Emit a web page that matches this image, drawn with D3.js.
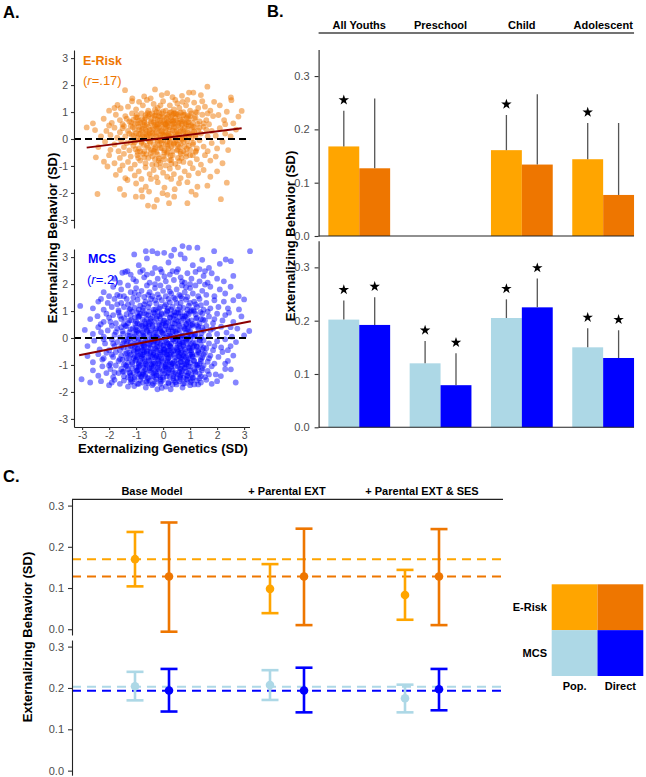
<!DOCTYPE html>
<html><head><meta charset="utf-8">
<script src="https://cdn.jsdelivr.net/npm/d3@7"></script>
<style>body{margin:0;background:#fff}svg{display:block}</style>
</head><body><svg id="c" width="646" height="777"></svg>
<script>
// ---------------- DATA ----------------
// Panel A: E-Risk scatter (genetics SD, behaviour SD)
const eriskPoints = [
[-1.41,1.81],[-0.30,1.84],[-0.05,1.63],[0.96,1.72],[1.12,1.72],[1.40,1.63],[1.64,1.94],[2.51,1.54],[-1.14,1.51],[-0.46,1.51],[0.35,1.55],[0.7,1.6],[-0.7,1.58],[0.15,1.7],
[-1.69,1.26],[-1.57,1.14],[-0.89,1.38],[0.53,1.32],[0.72,1.38],[1.89,1.38],[2.53,1.44],[2.91,1.04],[2.36,1.01],[-2.0,1.05],[-1.3,1.2],[-1.0,1.1],[-0.75,1.25],[-0.55,1.05],[-0.35,1.3],[-0.2,1.15],[0.0,1.4],[0.1,1.05],[0.25,1.25],[0.4,1.1],[0.6,1.15],[0.85,1.25],[1.0,1.05],[1.15,1.35],[1.3,1.15],[1.55,1.2],[1.75,1.05],[2.1,1.25],[-1.15,1.4],[-0.1,1.25],[0.9,1.45],[-0.6,1.45],[0.45,1.45],[1.2,1.0],[-1.8,1.15],[-0.25,1.0],[0.3,1.0],[0.75,1.0],[1.45,1.4],
[-2.6,0.58],[-2.2,0.75],[-1.9,0.6],[-1.75,0.9],[-1.6,0.7],[-1.5,0.55],[-1.4,0.85],[-1.25,0.65],[-1.15,0.95],[-1.05,0.55],[-0.95,0.8],[-0.85,0.6],[-0.8,0.95],[-0.7,0.7],[-0.6,0.55],[-0.55,0.85],[-0.45,0.65],[-0.4,0.95],[-0.3,0.75],[-0.25,0.55],[-0.15,0.85],[-0.1,0.6],[-0.05,0.95],[0.05,0.7],[0.1,0.55],[0.15,0.9],[0.2,0.65],[0.3,0.8],[0.35,0.55],[0.4,0.95],[0.5,0.7],[0.55,0.6],[0.6,0.85],[0.7,0.65],[0.8,0.9],[0.85,0.55],[0.95,0.75],[1.05,0.95],[1.1,0.6],[1.2,0.8],[1.35,0.65],[1.45,0.9],[1.6,0.7],[1.7,0.55],[1.85,0.85],[2.05,0.89],[2.26,0.70],[2.6,0.58],[2.79,0.83],[-2.0,0.5],[-1.35,0.75],[-0.9,0.68],[-0.65,0.78],[-0.2,0.72],[0.0,0.82],[0.25,0.98],[0.45,0.78],[0.65,0.98],[0.9,0.62],[1.25,0.98],[1.5,0.58],[-0.35,0.62],[0.12,0.78],[0.75,0.72],[-1.1,0.72],[-0.5,0.92],[0.55,0.92],[1.0,0.85],[-0.05,0.52],[0.38,0.68],[-0.75,0.52],[0.18,0.58],[-0.28,0.88],[0.88,0.8],[1.65,0.95],[2.3,0.55],
[-2.83,0.43],[-2.52,0.33],[-2.3,0.1],[-2.1,0.3],[-1.95,0.15],[-1.8,0.42],[-1.7,0.05],[-1.6,0.25],[-1.5,0.4],[-1.4,0.1],[-1.3,0.3],[-1.2,0.48],[-1.15,0.15],[-1.05,0.35],[-0.95,0.05],[-0.9,0.45],[-0.85,0.2],[-0.75,0.38],[-0.7,0.08],[-0.6,0.28],[-0.55,0.45],[-0.45,0.12],[-0.4,0.35],[-0.3,0.2],[-0.25,0.45],[-0.15,0.05],[-0.1,0.3],[0.0,0.15],[0.05,0.42],[0.1,0.25],[0.2,0.05],[0.25,0.35],[0.3,0.18],[0.4,0.45],[0.45,0.08],[0.5,0.3],[0.6,0.15],[0.65,0.42],[0.75,0.25],[0.8,0.05],[0.9,0.38],[1.0,0.18],[1.1,0.45],[1.2,0.1],[1.3,0.32],[1.4,0.2],[1.5,0.45],[1.65,0.1],[1.8,0.3],[1.95,0.12],[2.1,0.4],[2.3,0.2],[2.5,0.1],[2.7,0.35],[-1.25,0.2],[-0.65,0.18],[-0.2,0.38],[0.15,0.48],[0.55,0.22],[0.85,0.12],[1.15,0.28],[-0.35,0.02],[0.35,0.32],[-0.8,0.32],[-1.45,0.48],[0.7,0.02],[1.6,0.35],[-0.05,0.22],[0.22,0.12],[-0.5,0.22],[0.95,0.48],[-1.0,0.22],[1.35,0.42],[-0.15,0.42],
[-2.4,-0.3],[-2.15,-0.1],[-1.95,-0.4],[-1.8,-0.2],[-1.65,-0.45],[-1.55,-0.05],[-1.45,-0.3],[-1.35,-0.15],[-1.25,-0.42],[-1.1,-0.25],[-1.0,-0.05],[-0.9,-0.35],[-0.8,-0.15],[-0.7,-0.45],[-0.6,-0.25],[-0.5,-0.08],[-0.45,-0.4],[-0.35,-0.2],[-0.25,-0.48],[-0.2,-0.1],[-0.1,-0.32],[0.0,-0.05],[0.05,-0.42],[0.1,-0.2],[0.2,-0.35],[0.25,-0.08],[0.35,-0.45],[0.4,-0.22],[0.5,-0.05],[0.55,-0.38],[0.65,-0.18],[0.75,-0.45],[0.8,-0.28],[0.9,-0.08],[1.0,-0.4],[1.1,-0.2],[1.25,-0.35],[1.35,-0.05],[1.5,-0.28],[1.65,-0.45],[1.8,-0.15],[2.0,-0.35],[2.2,-0.1],[2.41,-0.41],[-0.15,-0.22],[0.3,-0.28],[-0.55,-0.32],[0.7,-0.02],[-0.95,-0.48],[1.2,-0.48],[0.15,-0.48],[-0.3,-0.38],[0.45,-0.12],[-1.2,-0.12],[0.95,-0.25],[-0.05,-0.15],[0.6,-0.3],
[-2.49,-0.68],[-2.19,-0.84],[-2.0,-0.6],[-1.8,-0.9],[-1.6,-0.7],[-1.45,-0.55],[-1.3,-0.85],[-1.2,-0.65],[-1.05,-0.95],[-0.95,-0.6],[-0.85,-0.8],[-0.75,-0.55],[-0.65,-0.9],[-0.55,-0.7],[-0.45,-0.52],[-0.4,-0.95],[-0.3,-0.75],[-0.2,-0.58],[-0.1,-0.88],[0.0,-0.65],[0.1,-0.98],[0.15,-0.55],[0.25,-0.78],[0.35,-0.6],[0.45,-0.92],[0.55,-0.7],[0.65,-0.55],[0.75,-0.85],[0.85,-0.65],[1.0,-0.9],[1.1,-0.6],[1.25,-0.75],[1.4,-0.95],[1.55,-0.6],[1.75,-0.8],[1.95,-0.65],[2.2,-0.9],[-0.25,-0.95],[0.3,-0.92],[-0.7,-0.68],[0.6,-0.82],[-1.5,-0.98],[0.05,-0.75],[-0.15,-0.72],
[-2.06,-1.02],[-1.75,-1.33],[-1.6,-1.15],[-1.4,-1.45],[-1.2,-1.1],[-1.05,-1.35],[-0.9,-1.2],[-0.8,-1.48],[-0.65,-1.05],[-0.5,-1.3],[-0.35,-1.15],[-0.25,-1.42],[-0.1,-1.05],[0.0,-1.25],[0.15,-1.4],[0.25,-1.1],[0.4,-1.3],[0.55,-1.05],[0.65,-1.45],[0.8,-1.2],[0.95,-1.35],[1.1,-1.08],[1.30,-1.27],[1.5,-1.15],[1.75,-1.4],[2.0,-1.2],[-0.45,-1.48],[0.3,-1.48],
[-1.32,-1.52],[-0.64,-1.77],[-0.52,-1.95],[0.43,-1.86],[0.59,-1.64],[1.27,-1.77],[1.64,-1.73],[2.36,-1.62],[-1.0,-1.65],[-0.2,-1.6],[0.05,-1.8],[0.9,-1.6],[-0.8,-1.9],[1.05,-1.95],[-1.6,-1.85],
[-2.43,-2.04],[-1.44,-2.07],[-1.01,-2.14],[-0.77,-2.14],[-0.56,-2.47],[-0.33,-2.51],[-0.23,-2.26],[-0.02,-2.01],[0.16,-2.07],[0.22,-2.38],[0.41,-2.14],[0.90,-2.38],[1.21,-2.07],[2.14,-2.23]
];
// E-Risk: denser centre of the cloud
const eriskCorePoints = [
[-1.18,0.62],[-1.08,0.12],[-1.02,-0.38],[-0.98,0.9],[-0.92,-0.7],[-0.88,0.36],[-0.82,0.02],[-0.78,0.74],[-0.72,-0.22],[-0.68,0.5],[-0.62,-0.56],[-0.58,0.96],[-0.52,0.16],[-0.48,-0.12],[-0.44,0.58],[-0.4,-0.64],[-0.36,0.4],[-0.32,0.86],[-0.28,-0.3],[-0.24,0.1],[-0.2,0.54],[-0.16,-0.8],[-0.12,0.68],[-0.08,-0.06],[-0.04,0.3],[0.0,1.02],[0.04,-0.5],[0.08,0.56],[0.12,0.16],[0.16,-0.26],[0.2,0.84],[0.24,0.44],[0.28,-0.62],[0.32,0.06],[0.36,0.64],[0.4,-0.16],[0.44,0.26],[0.48,0.92],[0.52,-0.42],[0.56,0.5],[0.6,0.04],[0.64,0.72],[0.68,-0.7],[0.72,0.34],[0.76,-0.1],[0.8,0.6],[0.84,0.2],[0.88,-0.36],[0.92,0.86],[0.96,0.1],[1.0,-0.6],[1.04,0.5],[1.08,0.28],[1.12,-0.14],[1.16,0.76],[1.22,-0.44],[1.28,0.56],
[-1.12,0.44],[-1.05,-0.12],[-0.95,0.58],[-0.85,-0.46],[-0.75,0.14],[-0.65,0.88],[-0.55,-0.02],[-0.45,0.76],[-0.35,-0.44],[-0.25,0.24],[-0.15,0.98],[-0.05,-0.34],[0.05,0.12],[0.15,0.62],[0.25,-0.14],[0.35,0.9],[0.45,0.44],[0.55,-0.2],[0.65,0.28],[0.75,0.88],[0.85,-0.54],[0.95,0.62],[1.05,0.02],[1.15,0.44],[-0.9,0.18],[-0.7,0.62],[-0.5,0.34],[-0.3,0.52],[-0.1,0.14],[0.1,0.38],[0.3,0.7],[0.5,0.14],[0.7,0.54],[0.9,0.24],[-0.6,0.1],[-0.2,-0.04],[0.2,0.2],[0.6,0.6],[-0.4,0.22],[0.0,0.62],[0.4,0.58],[0.8,0.42],[-0.8,-0.1],[0.15,-0.1],[-0.1,0.82],[0.45,0.96],[-0.65,0.34],[0.65,-0.48],[-0.3,1.1],[0.3,-0.78],[1.2,0.16],[-1.0,0.8]
];
// Panel A: MCS scatter
const mcsPoints = [
[-1.07,3.10],[-0.64,3.22],[-0.40,3.22],[-0.21,3.14],[0.04,3.16],[0.41,3.28],[0.72,3.41],[0.96,3.35],[1.27,3.35],[1.89,3.22],[2.51,2.85],[2.32,2.91],[3.22,3.22],[-1.32,2.48],[-1.51,2.42],[-0.9,2.7],[-0.6,2.95],[-0.3,2.6],[0.2,2.8],[0.55,2.55],[0.8,2.95],[1.1,2.7],[1.45,2.9],[1.7,2.6],[2.1,2.75],[0.3,3.05],[-0.1,2.55],[1.35,2.55],[0.65,3.1],[-0.75,2.52],
[-1.8,2.2],[-1.6,2.05],[-1.2,2.35],[-1.0,2.1],[-0.85,2.45],[-0.7,2.25],[-0.5,2.05],[-0.4,2.4],[-0.2,2.2],[-0.05,2.45],[0.1,2.1],[0.25,2.35],[0.4,2.15],[0.5,2.45],[0.65,2.25],[0.8,2.05],[0.9,2.4],[1.05,2.2],[1.2,2.45],[1.35,2.1],[1.5,2.3],[1.65,2.05],[1.8,2.4],[2.0,2.2],[2.25,2.1],[2.6,2.3],[-1.4,2.45],[-0.3,2.0],[0.35,2.48],[1.0,2.0],[-0.6,2.35],[0.7,2.1],[1.55,2.48],[-1.1,2.18],[0.05,2.28],
[-2.2,1.7],[-2.0,1.55],[-1.85,1.9],[-1.7,1.6],[-1.55,1.8],[-1.45,1.55],[-1.3,1.95],[-1.2,1.7],[-1.1,1.5],[-1.0,1.85],[-0.9,1.6],[-0.8,1.75],[-0.7,1.52],[-0.6,1.95],[-0.5,1.7],[-0.4,1.55],[-0.3,1.85],[-0.2,1.62],[-0.1,1.95],[0.0,1.75],[0.1,1.55],[0.2,1.88],[0.3,1.65],[0.4,1.5],[0.5,1.8],[0.6,1.6],[0.7,1.95],[0.8,1.7],[0.9,1.52],[1.0,1.85],[1.1,1.65],[1.2,1.95],[1.3,1.55],[1.45,1.75],[1.6,1.6],[1.75,1.9],[1.9,1.55],[2.1,1.8],[2.3,1.65],[2.5,1.9],[2.8,1.55],[3.0,1.43],[-0.55,1.6],[0.25,1.72],[0.85,1.88],[-1.05,1.68],[1.55,1.98],[-0.15,1.5],[0.65,1.55],[-1.6,1.55],
[-3.07,1.19],[-2.6,1.1],[-2.4,1.35],[-2.2,1.05],[-2.05,1.3],[-1.9,1.15],[-1.8,1.45],[-1.65,1.02],[-1.55,1.3],[-1.45,1.15],[-1.35,1.45],[-1.25,1.05],[-1.15,1.3],[-1.05,1.12],[-0.95,1.42],[-0.85,1.2],[-0.75,1.02],[-0.65,1.35],[-0.55,1.15],[-0.45,1.45],[-0.35,1.05],[-0.25,1.28],[-0.15,1.1],[-0.05,1.4],[0.05,1.18],[0.15,1.02],[0.25,1.32],[0.35,1.15],[0.45,1.45],[0.55,1.05],[0.65,1.3],[0.75,1.12],[0.85,1.42],[0.95,1.2],[1.05,1.02],[1.15,1.35],[1.25,1.15],[1.35,1.45],[1.5,1.05],[1.6,1.3],[1.75,1.1],[1.9,1.4],[2.05,1.15],[2.25,1.35],[2.4,1.1],[2.81,1.06],[2.6,1.4],[-0.7,1.25],[0.1,1.25],[0.9,1.05],[-1.3,1.25],[0.5,1.3],[1.2,1.25],[-0.3,1.4],[0.3,1.05],[-0.9,1.05],[1.4,1.22],[-1.7,1.25],[0.7,1.48],[-0.1,1.15],[0.2,1.45],[-0.5,1.28],[1.0,1.3],[-2.3,1.45],
[-2.43,0.81],[-2.31,0.51],[-2.7,0.7],[-2.1,0.9],[-1.95,0.6],[-1.85,0.85],[-1.75,0.55],[-1.65,0.95],[-1.55,0.7],[-1.45,0.52],[-1.35,0.88],[-1.25,0.65],[-1.15,0.98],[-1.05,0.75],[-0.95,0.55],[-0.85,0.9],[-0.75,0.68],[-0.65,0.52],[-0.55,0.85],[-0.45,0.62],[-0.35,0.95],[-0.25,0.72],[-0.15,0.55],[-0.05,0.88],[0.05,0.65],[0.15,0.98],[0.25,0.75],[0.35,0.55],[0.45,0.85],[0.55,0.62],[0.65,0.95],[0.75,0.72],[0.85,0.52],[0.95,0.88],[1.05,0.65],[1.15,0.98],[1.25,0.75],[1.35,0.55],[1.45,0.9],[1.55,0.65],[1.7,0.8],[1.85,0.55],[2.0,0.9],[2.2,0.65],[2.44,0.94],[2.6,0.6],[2.9,0.8],[-1.6,0.82],[-1.0,0.62],[-0.4,0.78],[0.2,0.6],[0.8,0.82],[1.4,0.7],[-1.3,0.55],[-0.7,0.92],[-0.1,0.72],[0.5,0.95],[1.1,0.52],[1.65,0.98],[-2.0,0.75],[-0.9,0.8],[0.0,0.55],[0.6,0.78],[1.2,0.88],[-0.5,0.52],[0.3,0.88],[0.9,0.68],[-1.2,0.85],[-0.2,0.98],[0.4,0.7],[1.0,0.98],[-0.6,0.7],[1.9,0.7],[2.3,0.85],[-2.2,0.6],
[3.19,0.26],[-2.9,0.3],[-2.6,0.15],[-2.4,0.4],[-2.2,0.05],[-2.05,0.28],[-1.9,0.45],[-1.8,0.12],[-1.7,0.35],[-1.6,0.02],[-1.5,0.25],[-1.4,0.45],[-1.3,0.1],[-1.2,0.32],[-1.1,0.05],[-1.0,0.4],[-0.9,0.18],[-0.8,0.45],[-0.7,0.08],[-0.6,0.3],[-0.5,0.12],[-0.4,0.42],[-0.3,0.2],[-0.2,0.02],[-0.1,0.35],[0.0,0.15],[0.1,0.45],[0.2,0.25],[0.3,0.05],[0.4,0.38],[0.5,0.18],[0.6,0.45],[0.7,0.1],[0.8,0.32],[0.9,0.05],[1.0,0.25],[1.1,0.45],[1.2,0.12],[1.3,0.35],[1.4,0.02],[1.5,0.28],[1.6,0.45],[1.7,0.1],[1.85,0.35],[2.0,0.15],[2.15,0.42],[2.35,0.2],[2.55,0.05],[2.75,0.35],[3.0,0.1],[-1.55,0.4],[-0.95,0.28],[-0.35,0.08],[0.25,0.4],[0.85,0.2],[1.45,0.38],[-1.25,0.22],[-0.65,0.42],[-0.05,0.22],[0.55,0.3],[1.15,0.05],[-0.75,0.22],[0.15,0.08],[0.75,0.42],[-0.45,0.28],[0.35,0.22],[0.95,0.4],[-1.75,0.22],[1.25,0.48],[-0.15,0.48],[0.65,0.05],[-1.05,0.15],[0.45,0.02],[-0.25,0.35],[1.75,0.3],[-2.3,0.22],[0.05,0.3],[-0.55,0.45],[1.05,0.12],[2.5,0.4],
[-2.8,-0.3],[-2.55,-0.1],[-2.35,-0.42],[-2.15,-0.2],[-2.0,-0.45],[-1.9,-0.05],[-1.8,-0.3],[-1.7,-0.15],[-1.6,-0.45],[-1.5,-0.22],[-1.4,-0.05],[-1.3,-0.38],[-1.2,-0.15],[-1.1,-0.45],[-1.0,-0.25],[-0.9,-0.05],[-0.8,-0.35],[-0.7,-0.18],[-0.6,-0.48],[-0.5,-0.25],[-0.4,-0.05],[-0.3,-0.38],[-0.2,-0.15],[-0.1,-0.45],[0.0,-0.28],[0.1,-0.08],[0.2,-0.4],[0.3,-0.2],[0.4,-0.45],[0.5,-0.05],[0.6,-0.3],[0.7,-0.15],[0.8,-0.42],[0.9,-0.22],[1.0,-0.05],[1.1,-0.35],[1.2,-0.18],[1.3,-0.45],[1.4,-0.25],[1.5,-0.08],[1.6,-0.38],[1.7,-0.2],[1.85,-0.45],[2.0,-0.12],[2.15,-0.35],[2.3,-0.05],[2.5,-0.3],[2.7,-0.15],[-1.55,-0.32],[-1.25,-0.02],[-0.95,-0.4],[-0.65,-0.08],[-0.35,-0.25],[-0.05,-0.12],[0.25,-0.3],[0.55,-0.48],[0.85,-0.1],[1.15,-0.28],[1.45,-0.42],[-1.85,-0.2],[-1.45,-0.12],[-1.05,-0.32],[-0.75,-0.45],[-0.45,-0.15],[-0.15,-0.32],[0.15,-0.22],[0.45,-0.12],[0.75,-0.3],[1.05,-0.45],[1.35,-0.05],[-0.85,-0.22],[-0.25,-0.48],[0.35,-0.05],[0.65,-0.38],[0.95,-0.35],[-0.55,-0.35],[0.05,-0.42],[-1.15,-0.28],[1.25,-0.32],[-0.3,-0.1],[0.3,-0.35],[0.9,-0.02],[-0.7,-0.32],[0.6,-0.2],[1.9,-0.3],[-2.2,-0.05],[2.4,-0.45],[-0.1,-0.22],[0.15,-0.48],[-1.35,-0.22],
[-2.8,-0.67],[-2.6,-0.9],[-2.4,-0.6],[-2.25,-0.8],[-2.1,-0.55],[-1.95,-0.95],[-1.85,-0.7],[-1.75,-0.52],[-1.65,-0.85],[-1.55,-0.65],[-1.45,-0.98],[-1.35,-0.75],[-1.25,-0.55],[-1.15,-0.9],[-1.05,-0.68],[-0.95,-0.52],[-0.85,-0.85],[-0.75,-0.62],[-0.65,-0.95],[-0.55,-0.72],[-0.45,-0.55],[-0.35,-0.88],[-0.25,-0.65],[-0.15,-0.98],[-0.05,-0.75],[0.05,-0.55],[0.15,-0.85],[0.25,-0.62],[0.35,-0.95],[0.45,-0.72],[0.55,-0.52],[0.65,-0.88],[0.75,-0.65],[0.85,-0.98],[0.95,-0.75],[1.05,-0.55],[1.15,-0.85],[1.25,-0.62],[1.35,-0.95],[1.45,-0.72],[1.55,-0.55],[1.65,-0.88],[1.75,-0.65],[1.9,-0.95],[2.05,-0.7],[2.2,-0.52],[2.4,-0.85],[2.6,-0.65],[-1.6,-0.78],[-1.3,-0.92],[-1.0,-0.8],[-0.7,-0.78],[-0.4,-0.7],[-0.1,-0.62],[0.2,-0.72],[0.5,-0.82],[0.8,-0.58],[1.1,-0.7],[1.4,-0.85],[-1.9,-0.62],[-1.2,-0.62],[-0.9,-0.98],[-0.6,-0.58],[-0.3,-0.95],[0.0,-0.88],[0.3,-0.55],[0.6,-0.68],[0.9,-0.88],[1.2,-0.98],[1.5,-0.62],[-0.5,-0.85],[0.1,-0.98],[0.7,-0.78],[-0.2,-0.78],[0.4,-0.62],[1.0,-0.62],[-0.8,-0.68],[1.3,-0.52],[-1.4,-0.58],[-0.05,-0.52],[0.55,-0.95],[-0.35,-0.55],[0.85,-0.72],[-1.1,-0.75],[0.25,-0.9],[-0.7,-0.52],[1.7,-0.75],[-2.2,-0.75],[2.3,-0.95],[-0.45,-0.98],[0.15,-0.62],[0.65,-0.55],[-0.95,-0.65],[1.0,-0.92],[-0.15,-0.7],
[-2.6,-1.2],[-2.4,-1.4],[-2.25,-1.05],[-2.1,-1.3],[-1.95,-1.15],[-1.85,-1.45],[-1.75,-1.02],[-1.65,-1.3],[-1.55,-1.15],[-1.45,-1.42],[-1.35,-1.05],[-1.25,-1.28],[-1.15,-1.12],[-1.05,-1.45],[-0.95,-1.2],[-0.85,-1.02],[-0.75,-1.35],[-0.65,-1.15],[-0.55,-1.48],[-0.45,-1.25],[-0.35,-1.05],[-0.25,-1.38],[-0.15,-1.18],[-0.05,-1.02],[0.05,-1.32],[0.15,-1.12],[0.25,-1.45],[0.35,-1.22],[0.45,-1.05],[0.55,-1.35],[0.65,-1.15],[0.75,-1.48],[0.85,-1.25],[0.95,-1.05],[1.05,-1.38],[1.15,-1.18],[1.25,-1.02],[1.35,-1.32],[1.45,-1.12],[1.55,-1.45],[1.65,-1.22],[1.8,-1.05],[1.95,-1.35],[2.14,-1.41],[2.3,-1.15],[2.51,-1.16],[-1.5,-1.25],[-1.2,-1.4],[-0.9,-1.35],[-0.6,-1.02],[-0.3,-1.25],[0.0,-1.45],[0.3,-1.05],[0.6,-1.25],[0.9,-1.4],[1.2,-1.28],[1.5,-1.02],[-1.8,-1.28],[-1.0,-1.1],[-0.4,-1.42],[0.2,-1.28],[0.8,-1.12],[1.4,-1.42],[-0.7,-1.22],[0.1,-1.05],[0.5,-1.48],[1.0,-1.2],[-1.3,-1.15],[-0.2,-1.1],[0.4,-1.32],[0.7,-1.02],[-0.8,-1.45],[1.7,-1.35],[-2.0,-1.02],[-0.5,-1.12],[1.1,-1.48],[-1.1,-1.3],[0.0,-1.2],[0.65,-1.38],[-0.1,-1.45],[-0.65,-1.32],[1.3,-1.1],
[-3.02,-1.53],[-2.7,-1.65],[-2.3,-1.6],[-2.0,-1.75],[-1.8,-1.55],[-1.6,-1.7],[-1.45,-1.58],[-1.3,-1.8],[-1.07,-1.78],[-1.15,-1.6],[-0.95,-1.7],[-0.85,-1.55],[-0.64,-1.84],[-0.75,-1.65],[-0.5,-1.58],[-0.4,-1.75],[-0.3,-1.62],[-0.21,-1.90],[-0.1,-1.7],[0.0,-1.55],[0.1,-1.8],[0.2,-1.65],[0.28,-1.90],[0.4,-1.58],[0.5,-1.72],[0.6,-1.6],[0.72,-1.84],[0.8,-1.68],[0.9,-1.55],[1.0,-1.75],[1.15,-1.72],[1.25,-1.58],[1.4,-1.65],[1.6,-1.55],[1.8,-1.7],[2.0,-1.6],[2.69,-1.65],[-1.9,-1.65],[-0.55,-1.68],[0.35,-1.72],[-1.2,-1.52],[0.65,-1.52],[-0.05,-1.85],[1.05,-1.58],[-0.25,-1.52]
];
// MCS: denser centre of the cloud
const mcsCorePoints = [
[-1.22,1.08],[-0.96,0.94],[-0.74,1.12],[-0.52,0.98],[-0.28,1.06],[-0.06,0.92],[0.18,1.1],[0.42,0.96],[0.62,1.14],[0.88,0.9],[1.12,1.04],[1.38,0.96],
[-1.44,0.74],[-1.18,0.66],[-0.92,0.78],[-0.68,0.62],[-0.46,0.72],[-0.22,0.8],[0.02,0.64],[0.26,0.76],[0.48,0.66],[0.72,0.8],[0.94,0.6],[1.22,0.72],[1.48,0.68],
[-1.36,0.44],[-1.12,0.36],[-0.86,0.5],[-0.62,0.38],[-0.38,0.48],[-0.14,0.34],[0.08,0.46],[0.32,0.4],[0.56,0.5],[0.8,0.36],[1.04,0.48],[1.3,0.42],
[-1.48,0.16],[-1.24,0.08],[-0.98,0.22],[-0.74,0.1],[-0.5,0.2],[-0.26,0.06],[-0.02,0.18],[0.22,0.1],[0.46,0.24],[0.7,0.08],[0.96,0.2],[1.18,0.12],[1.42,0.18],
[-1.32,-0.12],[-1.06,-0.04],[-0.82,-0.16],[-0.58,-0.06],[-0.34,-0.14],[-0.1,-0.02],[0.14,-0.16],[0.38,-0.06],[0.62,-0.12],[0.86,-0.04],[1.1,-0.18],[1.36,-0.08],
[-1.46,-0.36],[-1.2,-0.3],[-0.94,-0.4],[-0.7,-0.28],[-0.46,-0.38],[-0.22,-0.32],[0.02,-0.4],[0.26,-0.3],[0.5,-0.36],[0.74,-0.26],[0.98,-0.38],[1.24,-0.32],[1.5,-0.36],
[-1.34,-0.56],[-1.08,-0.5],[-0.84,-0.6],[-0.6,-0.52],[-0.36,-0.62],[-0.12,-0.54],[0.12,-0.6],[0.36,-0.5],[0.6,-0.58],[0.84,-0.52],[1.08,-0.62],[1.34,-0.56],
[-1.5,-0.8],[-1.26,-0.74],[-1.02,-0.84],[-0.78,-0.76],[-0.54,-0.82],[-0.3,-0.72],[-0.06,-0.82],[0.18,-0.76],[0.42,-0.86],[0.66,-0.74],[0.9,-0.8],[1.14,-0.84],[1.4,-0.78],
[-1.38,-1.02],[-1.14,-0.96],[-0.9,-1.06],[-0.66,-0.98],[-0.42,-1.04],[-0.18,-0.94],[0.06,-1.06],[0.3,-0.98],[0.54,-1.04],[0.78,-0.96],[1.02,-1.06],[1.28,-1.0],
[-1.46,-1.24],[-1.22,-1.3],[-0.98,-1.22],[-0.74,-1.28],[-0.5,-1.2],[-0.26,-1.3],[-0.02,-1.24],[0.22,-1.18],[0.46,-1.28],[0.7,-1.22],[0.94,-1.3],[1.18,-1.24],[1.44,-1.2],
[-1.3,-1.46],[-1.06,-1.52],[-0.82,-1.42],[-0.58,-1.5],[-0.34,-1.44],[-0.1,-1.54],[0.14,-1.42],[0.38,-1.5],[0.62,-1.44],[0.86,-1.52],[1.1,-1.46],[1.34,-1.5],
[-1.2,-1.64],[-0.9,-1.7],[-0.62,-1.62],[-0.36,-1.7],[-0.08,-1.62],[0.2,-1.68],[0.46,-1.64],[0.74,-1.7],[1.02,-1.64],[1.3,-1.72],
[-0.87,0.83],[-0.63,0.87],[-0.31,0.91],[-0.13,0.81],[0.11,0.89],[0.39,0.83],[0.57,0.93],[0.81,0.79],
[-1.03,0.53],[-0.77,0.45],[-0.53,0.59],[-0.33,0.61],[-0.05,0.49],[0.13,0.57],[0.43,0.53],[0.67,0.63],[0.87,0.51],
[-1.01,0.31],[-0.79,0.27],[-0.59,0.25],[-0.29,0.29],[-0.11,0.27],[0.19,0.31],[0.37,0.25],[0.61,0.29],[0.91,0.33],
[-0.93,-0.01],[-0.73,0.05],[-0.41,0.01],[-0.23,0.11],[0.09,0.01],[0.27,0.07],[0.57,0.03],[0.81,-0.03],[1.01,0.09],
[-1.03,-0.21],[-0.73,-0.25],[-0.53,-0.21],[-0.23,-0.19],[0.03,-0.27],[0.21,-0.21],[0.53,-0.25],[0.73,-0.17],[1.03,-0.23],
[-0.93,-0.49],[-0.75,-0.43],[-0.45,-0.51],[-0.27,-0.41],[0.03,-0.45],[0.21,-0.47],[0.51,-0.43],[0.69,-0.47],[0.99,-0.45],
[-0.97,-0.71],[-0.77,-0.63],[-0.45,-0.67],[-0.25,-0.69],[0.07,-0.67],[0.27,-0.69],[0.57,-0.67],[0.77,-0.69],[1.07,-0.67],
[-0.89,-0.93],[-0.69,-0.87],[-0.37,-0.95],[-0.17,-0.85],[0.15,-0.89],[0.35,-0.93],[0.67,-0.89],[0.87,-0.91],
[-0.93,-1.17],[-0.73,-1.09],[-0.41,-1.13],[-0.21,-1.15],[0.11,-1.11],[0.31,-1.15],[0.63,-1.13],[0.83,-1.09],
[-0.87,-1.33],[-0.67,-1.41],[-0.35,-1.31],[-0.15,-1.39],[0.17,-1.31],[0.37,-1.41],[0.69,-1.31],[0.89,-1.39]
];
// fitted regression line end points (x, y)
const eriskFitX = [-2.83, 2.91], eriskFitY = [-0.32, 0.40];
const mcsFitX = [-3.11, 3.25], mcsFitY = [-0.64, 0.62];
const scatterTicks = [-3, -2, -1, 0, 1, 2, 3];

// Panel B
const ageGroups = ["All Youths", "Preschool", "Child", "Adolescent"];
const eriskPop = [0.168, null, 0.161, 0.144];
const eriskPopUpper = [0.235, null, 0.227, 0.212];
const eriskPopSig = [true, false, true, true];
const eriskDirect = [0.127, null, 0.134, 0.077];
const eriskDirectUpper = [0.258, null, 0.266, 0.212];
const eriskDirectSig = [false, false, false, false];
const mcsPop = [0.202, 0.120, 0.205, 0.150];
const mcsPopUpper = [0.238, 0.162, 0.240, 0.186];
const mcsPopSig = [true, true, true, true];
const mcsDirect = [0.192, 0.079, 0.225, 0.130];
const mcsDirectUpper = [0.244, 0.139, 0.279, 0.182];
const mcsDirectSig = [true, true, true, true];
const barTicks = [0, 0.1, 0.2, 0.3];

// Panel C
const models = ["Base Model", "+ Parental EXT", "+ Parental EXT & SES"];
const cEriskPop = [0.170, 0.098, 0.083], cEriskPopLo = [0.104, 0.039, 0.023], cEriskPopHi = [0.236, 0.158, 0.144];
const cEriskDir = [0.128, 0.128, 0.128], cEriskDirLo = [-0.006, 0.010, 0.010], cEriskDirHi = [0.259, 0.244, 0.243];
const cMcsPop = [0.204, 0.207, 0.175], cMcsPopLo = [0.170, 0.171, 0.141], cMcsPopHi = [0.239, 0.243, 0.208];
const cMcsDir = [0.194, 0.194, 0.197], cMcsDirLo = [0.143, 0.141, 0.146], cMcsDirHi = [0.246, 0.249, 0.246];
const cEriskRef = [0.170, 0.128];
const cMcsRef = [0.203, 0.193];

// Legend
const legendRows = ["E-Risk", "MCS"];
const legendCols = ["Pop.", "Direct"];

// ---------------- STYLE ----------------
const F = "'Liberation Sans', Arial, Helvetica, sans-serif";
const C_LO = "#FFA500", C_DO = "#EE7600", C_LB = "#ADD8E6", C_B = "#0000FF";
const legendColors = [[C_LO, C_DO], [C_LB, C_B]];
const svg = d3.select("#c").attr("font-family", F);

function styleAxis(g, fs) {
  g.select(".domain").attr("stroke", "#222").attr("stroke-width", 1.1);
  g.selectAll(".tick line").attr("stroke", "#333").attr("stroke-width", 1.1);
  g.selectAll(".tick text").attr("fill", "#4d4d4d").attr("font-size", fs).attr("font-family", F);
}
function label(x, y, txt, o) {
  o = o || {};
  const t = svg.append("text").attr("x", x).attr("y", y).text(txt)
    .attr("font-size", o.size || 12).attr("font-weight", o.weight || "normal")
    .attr("fill", o.fill || "#000").attr("text-anchor", o.anchor || "start");
  if (o.rotate) t.attr("transform", `rotate(-90,${x},${y})`);
  return t;
}

// ---------------- PANEL A ----------------
label(3, 18, "A.", {size: 16.5, weight: "bold"});
const xA = d3.scaleLinear().domain([-3.3, 3.2]).range([74, 249.5]);
const yA1 = d3.scaleLinear().domain([-3.3, 3.3]).range([228, 50]);
const yA2 = d3.scaleLinear().domain([-3.3, 3.3]).range([427, 249]);

function scatter(sets, yS, col, op, fitX, fitY) {
  const g = svg.append("g");
  sets.forEach(pts => {
    g.append("g").selectAll("circle").data(pts).enter().append("circle")
      .attr("cx", d => xA(d[0])).attr("cy", d => yS(d[1])).attr("r", 2.9)
      .attr("fill", col).attr("fill-opacity", op);
  });
  g.append("line").attr("x1", xA.range()[0]).attr("x2", xA.range()[1])
    .attr("y1", yS(0)).attr("y2", yS(0)).attr("stroke", "#000").attr("stroke-width", 1.9)
    .attr("stroke-dasharray", "7,4");
  g.append("line").attr("x1", xA(fitX[0])).attr("x2", xA(fitX[1]))
    .attr("y1", yS(fitY[0])).attr("y2", yS(fitY[1])).attr("stroke", "#8B0000").attr("stroke-width", 2);
  const ax = svg.append("g").attr("transform", `translate(${xA.range()[0]},0)`)
    .call(d3.axisLeft(yS).tickValues(scatterTicks).tickFormat(d => String(d)).tickSize(3).tickPadding(3).tickSizeOuter(0));
  styleAxis(ax, 10.5);
}
scatter([eriskPoints, eriskCorePoints], yA1, C_DO, 0.5, eriskFitX, eriskFitY);
scatter([mcsPoints, mcsCorePoints], yA2, C_B, 0.48, mcsFitX, mcsFitY);
const axA = svg.append("g").attr("transform", `translate(0,${yA2.range()[0]})`)
  .call(d3.axisBottom(xA).tickValues(scatterTicks).tickFormat(d => String(d)).tickSize(3).tickPadding(2).tickSizeOuter(0));
styleAxis(axA, 10.5);

label(83, 65, "E-Risk", {size: 12.5, weight: "bold", fill: C_DO});
const tE2 = svg.append("text").attr("x", 83).attr("y", 85).attr("font-size", 13).attr("fill", C_DO);
tE2.append("tspan").text("(");
tE2.append("tspan").attr("font-style", "italic").text("r");
tE2.append("tspan").text("=.17)");
label(88, 263, "MCS", {size: 12.5, weight: "bold", fill: C_B});
const tM2 = svg.append("text").attr("x", 87).attr("y", 284).attr("font-size", 13).attr("fill", C_B);
tM2.append("tspan").text("(");
tM2.append("tspan").attr("font-style", "italic").text("r");
tM2.append("tspan").text("=.2)");

label(57, 238, "Externalizing Behavior (SD)", {size: 13, weight: "bold", anchor: "middle", rotate: true});
label(163, 453, "Externalizing Genetics (SD)", {size: 13, weight: "bold", anchor: "middle"});

// ---------------- PANEL B ----------------
label(267, 17, "B.", {size: 16.5, weight: "bold"});
const xB = d3.scaleBand().domain(ageGroups).range([318.6, 643.8]);
const barW = xB.bandwidth() * 0.38;
const xBend = xB(ageGroups[ageGroups.length - 1]) + xB.bandwidth() / 2 + barW;
const yB1 = d3.scaleLinear().domain([0, 0.35]).range([236, 49.4]);
const yB2 = d3.scaleLinear().domain([0, 0.35]).range([427.3, 240.7]);

function barPanel(yS, pop, popHi, popSig, dir, dirHi, dirSig, cPop, cDir) {
  const g = svg.append("g");
  const sets = [
    {v: pop, hi: popHi, sig: popSig, col: cPop, off: -barW},
    {v: dir, hi: dirHi, sig: dirSig, col: cDir, off: 0}
  ];
  sets.forEach(s => {
    ageGroups.forEach((a, i) => {
      if (s.v[i] == null) return;
      const x0 = xB(a) + xB.bandwidth() / 2 + s.off;
      g.append("rect").attr("x", x0).attr("width", barW).attr("y", yS(s.v[i]))
        .attr("height", yS(0) - yS(s.v[i])).attr("fill", s.col);
      g.append("line").attr("x1", x0 + barW / 2).attr("x2", x0 + barW / 2)
        .attr("y1", yS(s.v[i])).attr("y2", yS(s.hi[i])).attr("stroke", "#555").attr("stroke-width", 1.3);
      if (s.sig[i]) {
        g.append("path").attr("d", d3.symbol(d3.symbolStar).size(34)())
          .attr("transform", `translate(${x0 + barW / 2},${yS(s.hi[i] + 0.02)})`).attr("fill", "#000");
      }
    });
  });
  const ax = svg.append("g").attr("transform", `translate(${xB.range()[0]},0)`)
    .call(d3.axisLeft(yS).tickValues(barTicks).tickFormat(d3.format(".1f")).tickSize(4).tickPadding(5).tickSizeOuter(0));
  styleAxis(ax, 11);
  svg.append("line").attr("x1", xB.range()[0]).attr("x2", xBend).attr("y1", yS(0)).attr("y2", yS(0))
    .attr("stroke", "#222").attr("stroke-width", 1.1);
}
barPanel(yB1, eriskPop, eriskPopUpper, eriskPopSig, eriskDirect, eriskDirectUpper, eriskDirectSig, C_LO, C_DO);
barPanel(yB2, mcsPop, mcsPopUpper, mcsPopSig, mcsDirect, mcsDirectUpper, mcsDirectSig, C_LB, C_B);
ageGroups.forEach(a => label(xB(a) + xB.bandwidth() / 2, 29, a, {size: 11, weight: "bold", anchor: "middle"}));
svg.append("line").attr("x1", xB.range()[0]).attr("x2", xBend).attr("y1", 33).attr("y2", 33)
  .attr("stroke", "#444").attr("stroke-width", 1.3);
label(295, 236, "Externalizing Behavior (SD)", {size: 13, weight: "bold", anchor: "middle", rotate: true});

// ---------------- PANEL C ----------------
label(3, 482, "C.", {size: 16.5, weight: "bold"});
const xC = d3.scaleBand().domain(models).range([84.5, 489.5]);
const off = 17;
const cx0 = 72, cx1 = 503;
const yC1 = d3.scaleLinear().domain([-0.014, 0.316]).range([635, 499]);
const yC2 = d3.scaleLinear().domain([-0.011, 0.316]).range([775.2, 640]);

function ciPanel(yS, refs, refCols, series) {
  const g = svg.append("g");
  refs.forEach((r, i) => {
    g.append("line").attr("x1", cx0).attr("x2", cx1).attr("y1", yS(r)).attr("y2", yS(r))
      .attr("stroke", refCols[i]).attr("stroke-width", 2).attr("stroke-dasharray", "9,6");
  });
  series.forEach(s => {
    models.forEach((m, i) => {
      const x = xC(m) + xC.bandwidth() / 2 + s.off;
      g.append("line").attr("x1", x).attr("x2", x).attr("y1", yS(s.lo[i])).attr("y2", yS(s.hi[i]))
        .attr("stroke", s.col).attr("stroke-width", 2.6);
      [s.lo[i], s.hi[i]].forEach(v => g.append("line").attr("x1", x - 8.5).attr("x2", x + 8.5)
        .attr("y1", yS(v)).attr("y2", yS(v)).attr("stroke", s.col).attr("stroke-width", 2.6));
      g.append("circle").attr("cx", x).attr("cy", yS(s.v[i])).attr("r", 4.3).attr("fill", s.col);
    });
  });
  const ax = svg.append("g").attr("transform", `translate(${cx0},0)`)
    .call(d3.axisLeft(yS).tickValues(barTicks).tickFormat(d3.format(".1f")).tickSize(4).tickPadding(4).tickSizeOuter(0));
  styleAxis(ax, 11);
}
ciPanel(yC1, cEriskRef, [C_LO, C_DO], [
  {v: cEriskPop, lo: cEriskPopLo, hi: cEriskPopHi, col: C_LO, off: -off},
  {v: cEriskDir, lo: cEriskDirLo, hi: cEriskDirHi, col: C_DO, off: off}
]);
ciPanel(yC2, cMcsRef, [C_LB, C_B], [
  {v: cMcsPop, lo: cMcsPopLo, hi: cMcsPopHi, col: C_LB, off: -off},
  {v: cMcsDir, lo: cMcsDirLo, hi: cMcsDirHi, col: C_B, off: off}
]);
models.forEach(m => label(xC(m) + xC.bandwidth() / 2, 495, m, {size: 11, weight: "bold", anchor: "middle"}));
svg.append("line").attr("x1", cx0).attr("x2", cx1).attr("y1", 499.3).attr("y2", 499.3)
  .attr("stroke", "#222").attr("stroke-width", 1.2);
label(31.5, 637, "Externalizing Behavior (SD)", {size: 13, weight: "bold", anchor: "middle", rotate: true});

// Legend
const lx = d3.scaleBand().domain(legendCols).range([551.7, 643.3]);
const ly = d3.scaleBand().domain(legendRows).range([584.3, 676]);
legendRows.forEach((r, i) => {
  legendCols.forEach((c, j) => {
    svg.append("rect").attr("x", lx(c)).attr("y", ly(r)).attr("width", lx.bandwidth()).attr("height", ly.bandwidth())
      .attr("fill", legendColors[i][j]);
  });
  label(547, ly(r) + ly.bandwidth() / 2 + 4, r, {size: 11, weight: "bold", anchor: "end"});
});
legendCols.forEach(c => label(lx(c) + lx.bandwidth() / 2, 690, c, {size: 11, weight: "bold", anchor: "middle"}));
</script></body></html>
